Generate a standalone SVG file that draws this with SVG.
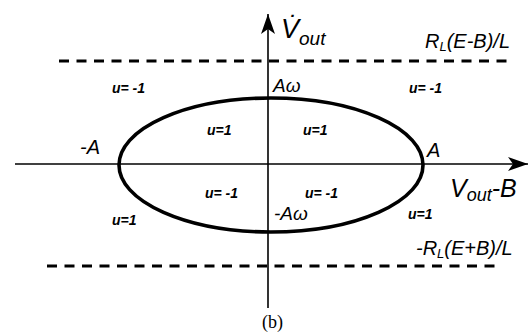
<svg xmlns="http://www.w3.org/2000/svg" width="531" height="335" viewBox="0 0 531 335">
<style>
.t{font-family:"Liberation Sans",Arial,sans-serif;font-style:italic;fill:#000}
.u{font-family:"Liberation Sans",Arial,sans-serif;font-style:italic;font-weight:bold;font-size:14px;fill:#000}
.dash{stroke:#000;stroke-width:3;stroke-dasharray:10,7.5;fill:none}
.ax{stroke:#000;stroke-width:1.6;fill:none}
</style>
<defs>
<marker id="ah" viewBox="0 0 20 14" refX="20" refY="7" markerWidth="20" markerHeight="14" markerUnits="userSpaceOnUse" orient="auto">
<path d="M0,0 L20,7 L0,14 L5,7 Z" fill="#000"/>
</marker>
</defs>
<rect width="531" height="335" fill="#fff"/>
<g id="connectors">
<line class="ax" x1="268" y1="308" x2="268" y2="14" marker-end="url(#ah)"/>
<line class="ax" x1="15" y1="164" x2="528" y2="164" marker-end="url(#ah)"/>
<line class="dash" x1="59" y1="61" x2="510" y2="61"/>
<line class="dash" x1="47" y1="266" x2="500" y2="266"/>
</g>
<g id="ellipse">
<ellipse cx="271" cy="165" rx="152" ry="67" fill="none" stroke="#000" stroke-width="3.6"/>
</g>
<g id="labels">
<text class="t" x="281" y="38" font-size="27">V̇</text>
<text class="t" x="299" y="45" font-size="19">out</text>
<text class="t" x="425" y="48" font-size="20">R<tspan font-size="13" dy="3">L</tspan><tspan dy="-3">(E-B)/L</tspan></text>
<text class="t" x="416" y="255" font-size="20">-R<tspan font-size="13" dy="3">L</tspan><tspan dy="-3">(E+B)/L</tspan></text>
<text class="t" x="450" y="197" font-size="25">V<tspan font-size="18" dy="4">out</tspan><tspan dy="-4">-B</tspan></text>
<text class="t" x="273" y="92" font-size="19">Aω</text>
<text class="t" x="274" y="220" font-size="19">-Aω</text>
<text class="t" x="80" y="154" font-size="20">-A</text>
<text class="t" x="427" y="157" font-size="20">A</text>
<text class="u" x="112" y="93">u= -1</text>
<text class="u" x="409" y="93">u= -1</text>
<text class="u" x="207" y="135">u=1</text>
<text class="u" x="303" y="135">u=1</text>
<text class="u" x="205" y="198">u= -1</text>
<text class="u" x="305" y="198">u= -1</text>
<text class="u" x="112" y="225">u=1</text>
<text class="u" x="408" y="219">u=1</text>
<text x="262" y="328" font-family="Liberation Serif,Times New Roman,serif" font-size="18">(b)</text>
</g>
</svg>
